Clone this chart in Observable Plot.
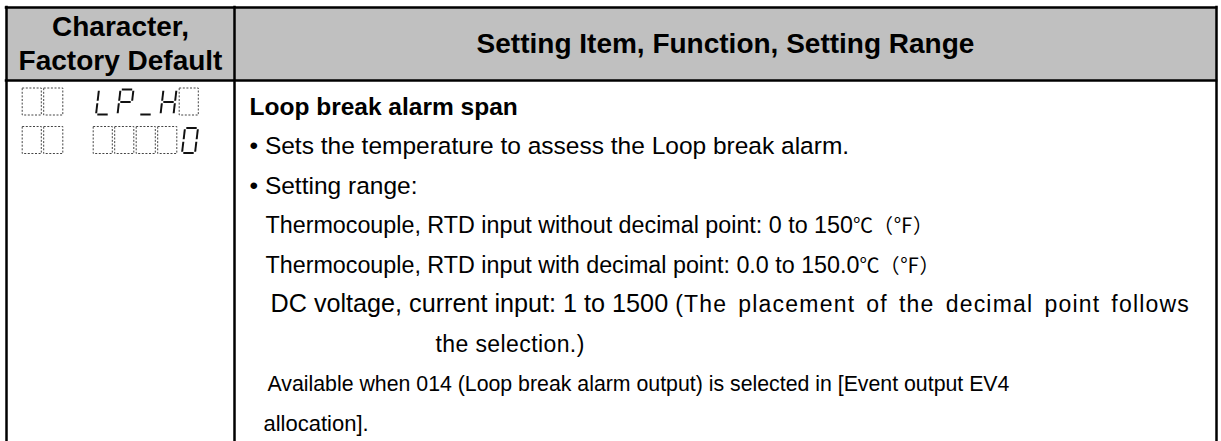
<!DOCTYPE html>
<html><head><meta charset="utf-8">
<script src="https://cdn.jsdelivr.net/npm/d3@7"></script>
<script src="https://cdn.jsdelivr.net/npm/@observablehq/plot@0.6"></script>
<style>html,body{margin:0;padding:0;background:#fff;} svg{display:block}</style>
</head><body><div id="chart"></div>
<script>
// ---- content ----
const headers = ["Character,\nFactory Default", "Setting Item, Function, Setting Range"];
const displayRows = [["  ", "LP_H "], ["  ", "    0"]];
const itemTitle = "Loop break alarm span";
const bulletItems = ["Sets the temperature to assess the Loop break alarm.", "Setting range:"];
const rangeLines = [
  ["Thermocouple, RTD input without decimal point: 0 to 150", "℃（℉）"],
  ["Thermocouple, RTD input with decimal point: 0.0 to 150.0", "℃（℉）"],
  ["DC voltage, current input: 1 to 1500 ", "(The placement of the decimal point follows"],
  ["the selection.)"]
];
const noteLines = ["Available when 014 (Loop break alarm output) is selected in [Event output EV4", "allocation]."];

// ---- layout / style ----
const W = 1221, H = 441;
const FONT = "'Liberation Sans', Arial, Helvetica, sans-serif";
const CJK = "'Noto Sans CJK JP', 'Noto Sans CJK SC', sans-serif";
const L = {left: 6, divider: 234, right: 1216, top: 7, headBottom: 80, bottom: H + 4,
  headCenter: 42, headGap: 34, headSize: 28, firstBaseline: 114, pitch: 39.5};
const colEdges = [L.left, L.divider, L.right];
const colCenters = [(L.left + L.divider) / 2, (L.divider + L.right) / 2];

const headerLines = headers.flatMap((h, c) => {
  const parts = h.split("\n");
  return parts.map((t, i) => ({text: t, x: colCenters[c],
    y: L.headCenter + (i - (parts.length - 1) / 2) * L.headGap + 0.716 * L.headSize / 2}));
});

const BODY = 24.5;
const bodyDefs = [
  {indent: 249, runs: [{text: itemTitle, size: BODY, weight: "bold"}]},
  ...bulletItems.map(t => ({indent: 249, runs: [{text: "• " + t, size: BODY}]})),
  {indent: 265, runs: [{text: rangeLines[0][0], size: 23.3}, {text: rangeLines[0][1], size: 20, family: CJK}]},
  {indent: 265, runs: [{text: rangeLines[1][0], size: 23.3}, {text: rangeLines[1][1], size: 20, family: CJK}]},
  {indent: 270, runs: [{text: rangeLines[2][0], size: 25.2}, {text: rangeLines[2][1], size: 23, spacing: 1.2, wordSpacing: 3.5}]},
  {indent: 435, runs: [{text: rangeLines[3][0], size: 23, spacing: 0.4}]},
  {indent: 267, runs: [{text: noteLines[0], size: 21.3}]},
  {indent: 263, runs: [{text: noteLines[1], size: 22}]}
];
const bodyLines = bodyDefs.map((d, i) => ({...d, y: L.firstBaseline + i * L.pitch,
  text: d.runs.map(r => r.text).join("")}));

// seven-segment display cells
const SEG = {w: 21.5, h: 27, groupX: [21, 92], rowY: [88, 126.5], slant: 3, gap: 0.1};
const SEGMENTS = {a: [[0,0],[1,0]], b: [[1,0],[1,.5]], c: [[1,.5],[1,1]], d: [[0,1],[1,1]],
  e: [[0,.5],[0,1]], f: [[0,0],[0,.5]], g: [[0,.5],[1,.5]]};
const CHAR_SEGS = {"L": "fed", "P": "abfge", "_": "d", "H": "fbgec", "0": "abcdef"};
const cells = [];
displayRows.forEach((row, r) => row.forEach((grp, g) => [...grp].forEach((ch, k) => {
  cells.push({ch, x0: SEG.groupX[g] + k * SEG.w, y0: SEG.rowY[r]});
})));
const blanks = cells.filter(c => c.ch === " ");
const segLines = cells.filter(c => c.ch !== " ").flatMap(c => {
  const l = c.x0 + 3.5, rgt = c.x0 + SEG.w - 5, t = c.y0 + 1, b = c.y0 + SEG.h - 1;
  const P = ([u, v]) => [l + u * (rgt - l) + (1 - v) * SEG.slant, t + v * (b - t)];
  return [...CHAR_SEGS[c.ch]].map(s => {
    const [p, q] = SEGMENTS[s].map(P);
    const dx = (q[0] - p[0]) * SEG.gap, dy = (q[1] - p[1]) * SEG.gap;
    return {x1: p[0] + dx, y1: p[1] + dy, x2: q[0] - dx, y2: q[1] - dy};
  });
});

const plot = Plot.plot({
  width: W, height: H, margin: 0,
  x: {domain: [0, W], range: [0, W], axis: null},
  y: {domain: [0, H], range: [0, H], axis: null},
  style: {background: "#fff", fontFamily: FONT, overflow: "visible"},
  marks: [
    Plot.rect([headers], {x1: () => L.left, x2: () => L.right, y1: () => L.top, y2: () => L.headBottom, fill: "#c0c0c0"}),
    Plot.text(headerLines, {x: "x", y: "y", text: "text", textAnchor: "middle", lineAnchor: "bottom",
      fontSize: L.headSize, fontWeight: "bold", fill: "#000"}),
    Plot.ruleY([L.top, L.headBottom], {y: d => d, x1: () => L.left, x2: () => L.right,
      stroke: "#000", strokeWidth: 2.5, strokeLinecap: "square"}),
    Plot.ruleX(colEdges, {x: d => d, y1: () => L.top, y2: () => L.bottom, stroke: "#000", strokeWidth: 2.5, strokeLinecap: "square"}),
    Plot.rect(blanks, {x1: d => d.x0 + 1.2, x2: d => d.x0 + SEG.w - 1.2, y1: "y0", y2: d => d.y0 + SEG.h,
      fill: "none", stroke: "#444", strokeWidth: 1, strokeDasharray: "2,1.6"}),
    Plot.link(segLines, {x1: "x1", y1: "y1", x2: "x2", y2: "y2", stroke: "#111", strokeWidth: 2, strokeLinecap: "butt"}),
    Plot.text(bodyLines, {x: "indent", y: "y", text: "text", textAnchor: "start", lineAnchor: "bottom",
      fontSize: BODY, fill: "#000"})
  ]
});
document.getElementById("chart").appendChild(plot);

// rich text runs (the body text mark is the last text group)
const textGroups = plot.querySelectorAll('g[aria-label="text"]');
const bodyGroup = textGroups[textGroups.length - 1];
bodyGroup.querySelectorAll("text").forEach((el, i) => {
  const d = bodyLines[i];
  while (el.firstChild) el.removeChild(el.firstChild);
  d.runs.forEach(r => {
    const ts = document.createElementNS("http://www.w3.org/2000/svg", "tspan");
    ts.textContent = r.text;
    ts.style.fontSize = r.size + "px";
    ts.style.fontWeight = r.weight || "normal";
    if (r.family) ts.style.fontFamily = r.family;
    if (r.spacing) ts.style.letterSpacing = r.spacing + "px";
    if (r.wordSpacing) ts.style.wordSpacing = r.wordSpacing + "px";
    el.appendChild(ts);
  });
});
</script>
</body></html>
